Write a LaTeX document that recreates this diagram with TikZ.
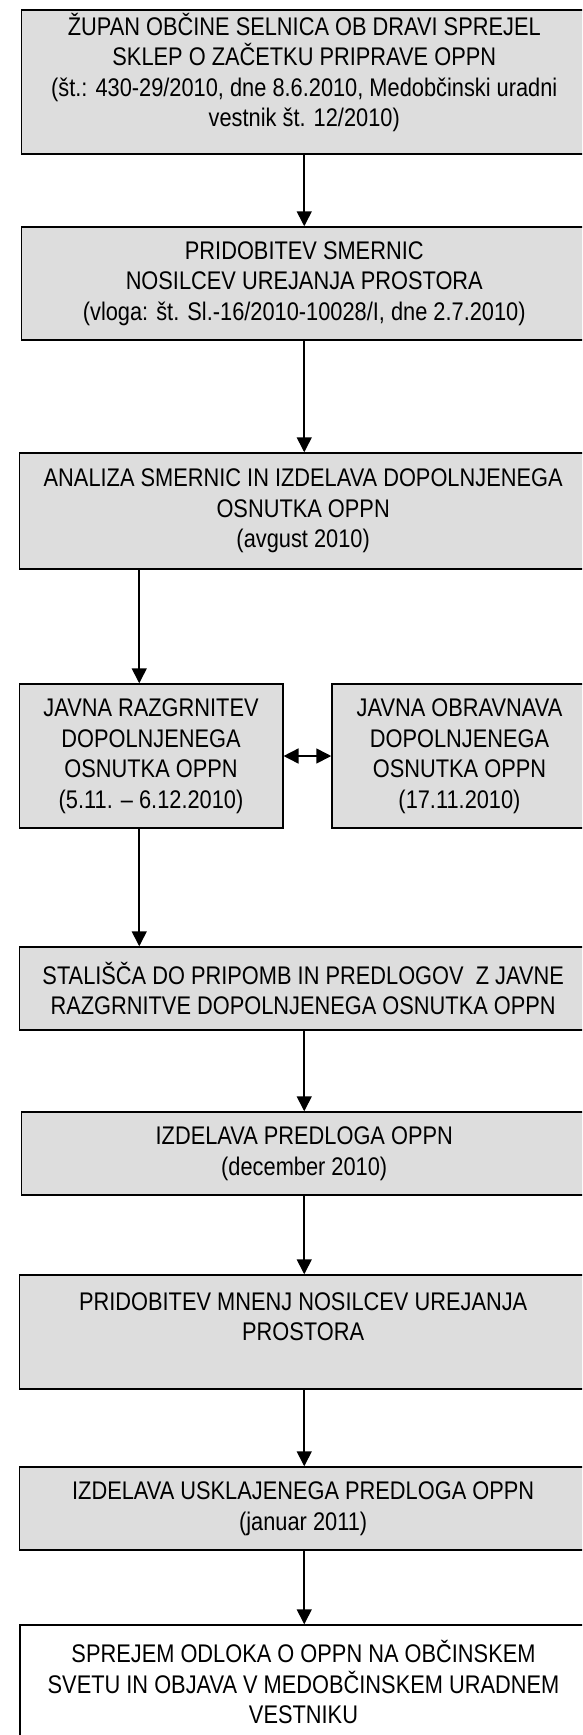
\documentclass[tikz,border=0pt]{standalone}
\usepackage{fontspec}
\setmainfont[FakeStretch=0.855]{Liberation Sans}
\usetikzlibrary{arrows.meta,calc}
\definecolor{boxgray}{RGB}{221,221,221}
\begin{document}
\begin{tikzpicture}[x=1pt,y=-1pt,
  box/.style={draw=black, line width=1.5pt, fill=boxgray, align=center, inner sep=0pt,
    font=\fontsize{25.5}{30.5}\selectfont},
  whitebox/.style={box, fill=white},
  arr/.style={line width=1.6pt, -{Triangle[length=15pt,width=15pt]}},
  darr/.style={line width=1.6pt, {Triangle[length=15pt,width=15pt]}-{Triangle[length=15pt,width=15pt]}}]
\useasboundingbox (0,0) rectangle (582,1735);
\clip (0,0) rectangle (582,1735);
\fill[white] (0,0) rectangle (582,1735);

\node[box, minimum width=565.5pt, minimum height=144pt] (b1) at (304.25,82)
  {ŽUPAN OBČINE SELNICA OB DRAVI SPREJEL\\SKLEP O ZAČETKU PRIPRAVE OPPN\\(št.: 430-29/2010, dne 8.6.2010, Medobčinski uradni\\vestnik št. 12/2010)\\[-6pt]\mbox{}};
\node[box, minimum width=565.5pt, minimum height=113pt] (b2) at (304.25,283.5)
  {PRIDOBITEV SMERNIC\\NOSILCEV UREJANJA PROSTORA\\(vloga: št. Sl.-16/2010-10028/I, dne 2.7.2010)};
\node[box, minimum width=567.7pt, minimum height=116pt] (b3) at (303.15,511)
  {ANALIZA SMERNIC IN IZDELAVA DOPOLNJENEGA\\OSNUTKA OPPN\\(avgust 2010)};
\node[box, minimum width=263.5pt, minimum height=144pt] (b4) at (151.05,756)
  {JAVNA RAZGRNITEV\\DOPOLNJENEGA\\OSNUTKA OPPN\\(5.11. – 6.12.2010)};
\node[box, minimum width=255pt, minimum height=144pt] (b5) at (459.5,756)
  {JAVNA OBRAVNAVA\\DOPOLNJENEGA\\OSNUTKA OPPN\\(17.11.2010)};
\node[box, minimum width=567.7pt, minimum height=83pt] (b6) at (303.15,988.5)
  {STALIŠČA DO PRIPOMB IN PREDLOGOV\ \ Z JAVNE\\RAZGRNITVE DOPOLNJENEGA OSNUTKA OPPN};
\node[box, minimum width=565.5pt, minimum height=83pt] (b7) at (304.25,1153.5)
  {IZDELAVA PREDLOGA OPPN\\(december 2010)};
\node[box, minimum width=567.7pt, minimum height=114pt] (b8) at (303.15,1332)
  {PRIDOBITEV MNENJ NOSILCEV UREJANJA\\PROSTORA\\\mbox{}};
\node[box, minimum width=567.7pt, minimum height=83pt] (b9) at (303.15,1508.5)
  {IZDELAVA USKLAJENEGA PREDLOGA OPPN\\(januar 2011)};
\node[whitebox, minimum width=567pt, minimum height=114pt] (b10) at (303.5,1682)
  {SPREJEM ODLOKA O OPPN NA OBČINSKEM\\SVETU IN OBJAVA V MEDOBČINSKEM URADNEM\\VESTNIKU};

\coordinate (t4) at ($(b4.north west)+(120.7,0)$);

\draw[arr] (b1.south) -- (b2.north);
\draw[arr] (b2.south) -- (b2.south |- b3.north);
\draw[arr] (t4 |- b3.south) -- (t4);
\draw[darr] (b4.east) -- (b5.west);
\draw[arr] (t4 |- b4.south) -- (t4 |- b6.north);
\draw[arr] (b2.south |- b6.south) -- (b2.south |- b7.north);
\draw[arr] (b2.south |- b7.south) -- (b2.south |- b8.north);
\draw[arr] (b2.south |- b8.south) -- (b2.south |- b9.north);
\draw[arr] (b2.south |- b9.south) -- (b2.south |- b10.north);
\end{tikzpicture}
\end{document}
